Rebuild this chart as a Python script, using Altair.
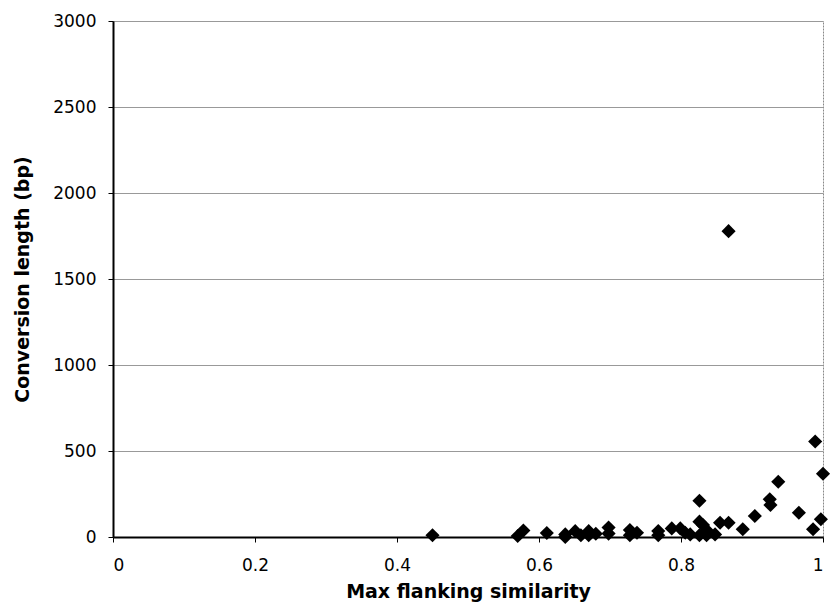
import altair as alt
import pandas as pd

similarity = [0.45, 0.57, 0.578, 0.611, 0.637, 0.637, 0.651, 0.659, 0.670, 0.670,
              0.680, 0.698, 0.698, 0.728, 0.728, 0.738, 0.768, 0.768, 0.787, 0.799,
              0.806, 0.813, 0.826, 0.826, 0.826, 0.831, 0.836, 0.836, 0.848, 0.855,
              0.867, 0.867, 0.887, 0.904, 0.925, 0.926, 0.937, 0.966, 0.986, 0.989,
              0.997, 1.0]
length_bp = [10, 6, 38, 23, 0, 15, 34, 10, 34, 10,
             19, 55, 20, 41, 10, 25, 35, 10, 50, 50,
             25, 15, 211, 89, 10, 70, 40, 10, 15, 83,
             83, 1778, 45, 122, 219, 186, 321, 141, 45, 555,
             103, 368]

x_ticks = [0, 0.2, 0.4, 0.6, 0.8, 1]
y_ticks = [0, 500, 1000, 1500, 2000, 2500, 3000]

df = pd.DataFrame({"sim": similarity, "len": length_bp})

FONT = "DejaVu Sans"

chart = alt.Chart(df).mark_point(
    shape="diamond", filled=True, color="black", size=200, opacity=1
).encode(
    x=alt.X("sim:Q", scale=alt.Scale(domain=[0, 1], nice=False),
            axis=alt.Axis(values=x_ticks, title="Max flanking similarity",
                          grid=False, labelExpr="format(datum.value, '~g')")),
    y=alt.Y("len:Q", scale=alt.Scale(domain=[0, 3000], nice=False),
            axis=alt.Axis(values=y_ticks, title="Conversion length (bp)",
                          grid=True, format="d")),
).properties(
    width=710, height=516,
    autosize=alt.AutoSizeParams(type="none"),
    padding={"left": 113, "top": 21, "right": 9, "bottom": 78},
).configure_view(
    stroke="#888888", strokeWidth=1, strokeDash=[2, 1]
).configure_axis(
    labelFont=FONT, titleFont=FONT, labelFontSize=17, titleFontSize=19,
    titleFontWeight="bold", labelColor="black", titleColor="black",
    domainColor="black", domainWidth=2, tickColor="black", tickSize=5,
    gridColor="#999999", gridWidth=1,
).configure_axisY(
    titlePadding=20, labelPadding=12,
).configure_axisX(
    titlePadding=9, labelPadding=15,
)

chart.save("out.html", embed_options={"renderer": "svg", "actions": False})
